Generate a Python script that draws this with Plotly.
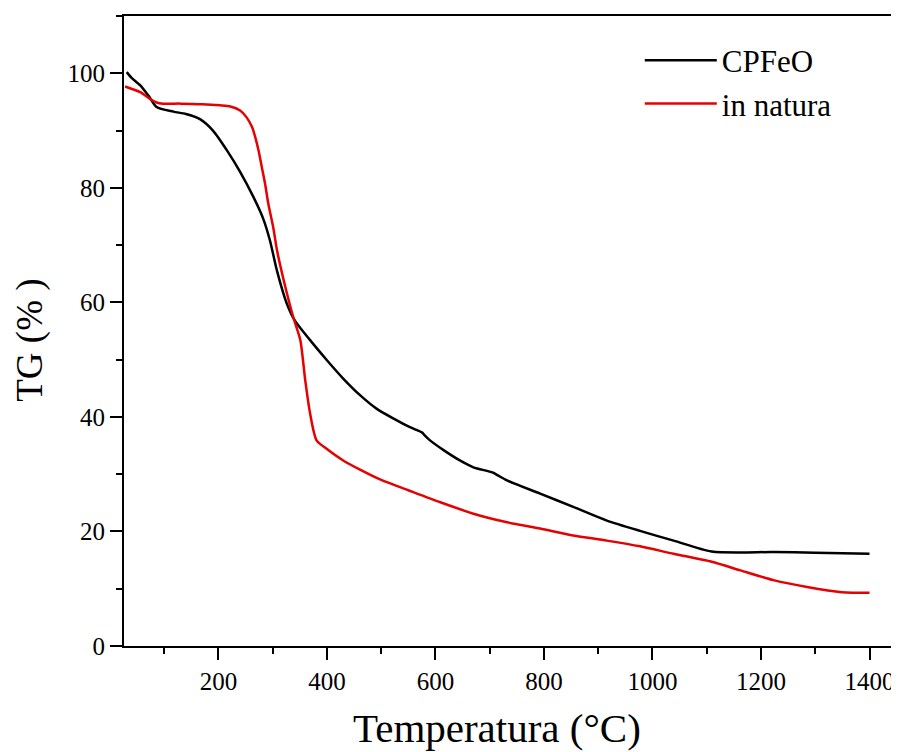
import plotly.graph_objects as go

# CPFeO (black)
t_cpfeo = [31, 40, 56, 71, 86, 117, 140, 166, 190, 216, 240, 264, 283, 295, 308, 326, 341, 369,
           400, 430, 461, 492, 523, 553, 575, 580, 590, 615, 645, 670, 705, 715, 732,
           793, 854, 916, 977, 1039, 1109, 1223, 1300, 1400]
tg_cpfeo = [100.2, 99.2, 97.9, 96.1, 94.1, 93.3, 92.9, 92.0, 90.0, 86.5, 82.8, 78.5, 74.5, 70.8,
            65.5, 59.8, 56.8, 53.4, 49.9, 46.7, 43.8, 41.4, 39.7, 38.2, 37.3, 36.8, 35.9, 34.2,
            32.4, 31.2, 30.3, 29.8, 28.9, 26.6, 24.3, 21.9, 20.1, 18.4, 16.5, 16.4, 16.3, 16.1]

# in natura (red)
t_natura = [28, 56, 74, 86, 98, 130, 170, 203, 222, 240, 252, 262, 268, 274, 280, 286, 292,
            301, 308, 320, 338, 351, 360, 369, 381, 400, 430, 461, 500, 550, 609, 670, 732,
            793, 854, 916, 977, 1039, 1109, 1162, 1223, 1285, 1349, 1400]
tg_natura = [97.7, 96.7, 95.5, 94.9, 94.7, 94.7, 94.6, 94.4, 94.2, 93.5, 92.3, 90.6, 88.8,
             86.5, 83.6, 80.7, 77.2, 73.1, 69.1, 64.0, 57.4, 53.4, 46.4, 40.6, 35.9, 34.4,
             32.4, 30.8, 29.0, 27.2, 25.1, 23.1, 21.6, 20.5, 19.3, 18.4, 17.4, 16.1, 14.7,
             13.2, 11.5, 10.3, 9.4, 9.3]

x_ticks = [200, 400, 600, 800, 1000, 1200, 1400]
y_ticks = [0, 20, 40, 60, 80, 100]

FONT = "Liberation Serif"

fig = go.Figure()
fig.add_trace(go.Scatter(x=t_cpfeo, y=tg_cpfeo, mode="lines", name="CPFeO",
                         line=dict(color="black", width=2.5, shape="spline", smoothing=0.7)))
fig.add_trace(go.Scatter(x=t_natura, y=tg_natura, mode="lines", name="in natura",
                         line=dict(color="#e60000", width=2.5, shape="spline", smoothing=0.7)))

axis_common = dict(showline=True, linewidth=2, linecolor="black", mirror=True,
                   ticks="outside", ticklen=12, tickwidth=2, tickcolor="black",
                   showgrid=False, zeroline=False, automargin=False,
                   ticklabelposition="outside",
                   tickfont=dict(family=FONT, size=25, color="black"))

fig.update_xaxes(range=[26, 1447], tickvals=x_ticks,
                 minor=dict(ticks="outside", ticklen=6, tickwidth=2, tickcolor="black", dtick=100, tick0=0),
                 ticklabelstandoff=0, **axis_common)
fig.update_yaxes(range=[0, 110], tickvals=y_ticks,
                 minor=dict(ticks="outside", ticklen=6, tickwidth=2, tickcolor="black", dtick=10, tick0=0),
                 ticklabelstandoff=0, **axis_common)

# page body has an 8px default margin; margins compensate so the plot area
# lands at x 124..895, y 16..646 in the viewport
fig.update_layout(
    width=899, height=752,
    margin=dict(l=116, r=12, t=8, b=114),
    plot_bgcolor="white", paper_bgcolor="white",
    font=dict(family=FONT, color="black"),
    showlegend=True,
    legend=dict(x=0.669, y=0.972, xanchor="left", yanchor="top",
                bgcolor="rgba(0,0,0,0)", font=dict(family=FONT, size=31, color="black"),
                itemwidth=72, tracegroupgap=0),
    annotations=[
        dict(text="Temperatura (°C)", x=0.484, y=-0.130, xref="paper", yref="paper",
             showarrow=False, font=dict(family=FONT, size=41, color="black"),
             xanchor="center", yanchor="middle"),
        dict(text="TG (% )", x=-0.122, y=0.486, xref="paper", yref="paper",
             showarrow=False, textangle=-90, font=dict(family=FONT, size=37, color="black"),
             xanchor="center", yanchor="middle"),
    ],
)

fig.write_html("out.html")
